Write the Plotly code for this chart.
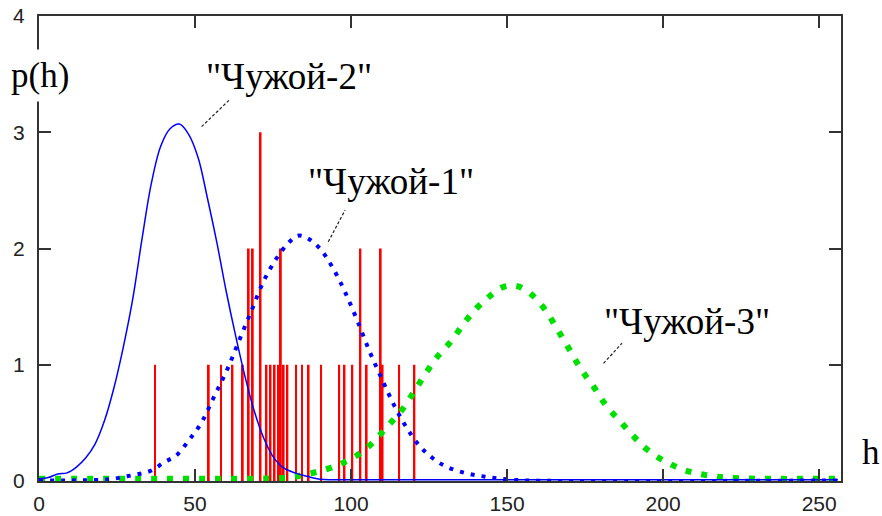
import plotly.graph_objects as go

# ---- data ----
# histogram stems (h value, count)
hist_h = [37.2, 54.4, 58.3, 62.0, 65.3, 67.2, 68.5, 71.0, 72.9, 74.2, 75.5, 76.8, 77.5,
          78.4, 79.6, 82.4, 84.3, 86.4, 90.4, 96.2, 97.9, 100.4, 103.0, 105.0, 109.5,
          110.1, 115.4, 120.3]
hist_n = [1, 1, 1, 1, 1, 2, 2, 3, 1, 1, 1, 1, 2,
          1, 1, 1, 1, 1, 1, 1, 1, 1, 2, 1, 2,
          1, 1, 1]

# "Чужой-2" (solid blue)
h2 = [0, 3, 6, 9, 12, 15, 18, 21, 24, 27, 30, 33, 36, 39, 42, 45, 48, 51, 54, 57,
      60, 63, 66, 69, 72, 75, 78, 82, 86, 90, 95, 256]
p2 = [0.02, 0.03, 0.06, 0.07, 0.12, 0.20, 0.32, 0.52, 0.80, 1.15, 1.56, 2.08, 2.56,
      2.88, 3.03, 3.07, 2.98, 2.78, 2.43, 2.05, 1.63, 1.25, 0.90, 0.60, 0.37, 0.21,
      0.12, 0.07, 0.04, 0.015, 0.01, 0.01]

# "Чужой-1" (dotted blue)
h1 = [0, 10, 20, 24, 28, 32, 36, 40, 44, 48, 52, 56, 60, 64, 68, 72, 76, 80, 83, 86,
      90, 94, 98, 102, 106, 110, 114, 118, 122, 126, 130, 135, 140, 145, 150, 156, 256]
p1 = [0.005, 0.005, 0.01, 0.02, 0.04, 0.06, 0.09, 0.16, 0.22, 0.35, 0.50, 0.72, 0.94,
      1.20, 1.46, 1.72, 1.91, 2.05, 2.11, 2.09, 2.00, 1.84, 1.63, 1.38, 1.11, 0.87,
      0.64, 0.45, 0.30, 0.20, 0.13, 0.08, 0.05, 0.03, 0.015, 0.005, 0.005]

# "Чужой-3" (dotted green)
h3 = [0, 40, 70, 80, 86, 92, 96, 100, 104, 108, 112, 116, 120, 124, 128, 132, 136, 140,
      144, 148, 151, 154, 158, 162, 166, 170, 174, 178, 182, 186, 190, 194, 198, 202,
      206, 210, 215, 220, 230, 256]
p3 = [0.02, 0.02, 0.02, 0.03, 0.06, 0.10, 0.14, 0.19, 0.26, 0.36, 0.48, 0.60, 0.76,
      0.93, 1.08, 1.20, 1.35, 1.48, 1.58, 1.66, 1.68, 1.67, 1.60, 1.48, 1.31, 1.13,
      0.95, 0.80, 0.64, 0.52, 0.40, 0.29, 0.21, 0.15, 0.10, 0.07, 0.045, 0.03, 0.02,
      0.02]

x_ticks = [0, 50, 100, 150, 200, 250]
y_ticks = [0, 1, 2, 3, 4]

labels = ['"Чужой-2"', '"Чужой-1"', '"Чужой-3"']

fig = go.Figure()
fig.add_trace(go.Bar(x=hist_h, y=hist_n, width=0.6, marker=dict(color="#FF0000", line=dict(width=0)),
                     hoverinfo="x+y"))
fig.add_trace(go.Scatter(x=h3, y=p3, mode="lines", line=dict(color="#00E000", width=6, dash="6px,10px", shape="spline")))
fig.add_trace(go.Scatter(x=h1, y=p1, mode="lines", line=dict(color="#0000FF", width=4, dash="4px,7px", shape="spline")))
fig.add_trace(go.Scatter(x=h2, y=p2, mode="lines", line=dict(color="#0000FF", width=1.5, shape="spline")))

axis_common = dict(
    showgrid=False, zeroline=False, showline=True, linecolor="#333", linewidth=2,
    mirror="allticks", ticks="inside", ticklen=12, tickwidth=1.5, tickcolor="#333",
    tickfont=dict(family="Liberation Sans", size=21, color="#222"),
    automargin=False,
)

fig.update_layout(
    width=882, height=516,
    margin=dict(l=39, r=41, t=16, b=35, autoexpand=False),
    paper_bgcolor="white", plot_bgcolor="white",
    showlegend=False,
    xaxis=dict(range=[0, 257], tickvals=x_ticks, ticklabelstandoff=3, **axis_common),
    yaxis=dict(range=[0, 4], tickvals=y_ticks, ticklabelstandoff=8, **axis_common),
)

serif = dict(family="Times New Roman", size=37, color="black")

# axis titles
fig.add_annotation(text="p(h)", xref="paper", yref="paper", x=0.00125, y=0.871,
                   xanchor="center", yanchor="middle", showarrow=False,
                   font=dict(family="Times New Roman", size=35, color="black"),
                   bgcolor="white", borderpad=6)
fig.add_annotation(text="h", xref="paper", yref="paper", x=1.037, y=0.062,
                   xanchor="center", yanchor="middle", showarrow=False,
                   font=dict(family="Times New Roman", size=35, color="black"))

# curve labels
fig.add_annotation(text=labels[0], x=80.1, y=3.48, showarrow=False, font=serif)
fig.add_annotation(text=labels[1], x=112.8, y=2.58, showarrow=False, font=serif)
fig.add_annotation(text=labels[2], x=207.7, y=1.376, showarrow=False, font=serif)

# leader lines
for (x0, y0, x1, y1) in [(52.1, 3.048, 61.2, 3.283), (92.7, 2.058, 98.1, 2.331), (180.9, 1.012, 186.8, 1.185)]:
    fig.add_shape(type="line", x0=x0, y0=y0, x1=x1, y1=y1, xref="x", yref="y",
                  line=dict(color="#222", width=1.2, dash="3px,2px"))

fig.write_html("out.html", config={"displayModeBar": False},
               post_script="document.body.style.margin='0px';")
